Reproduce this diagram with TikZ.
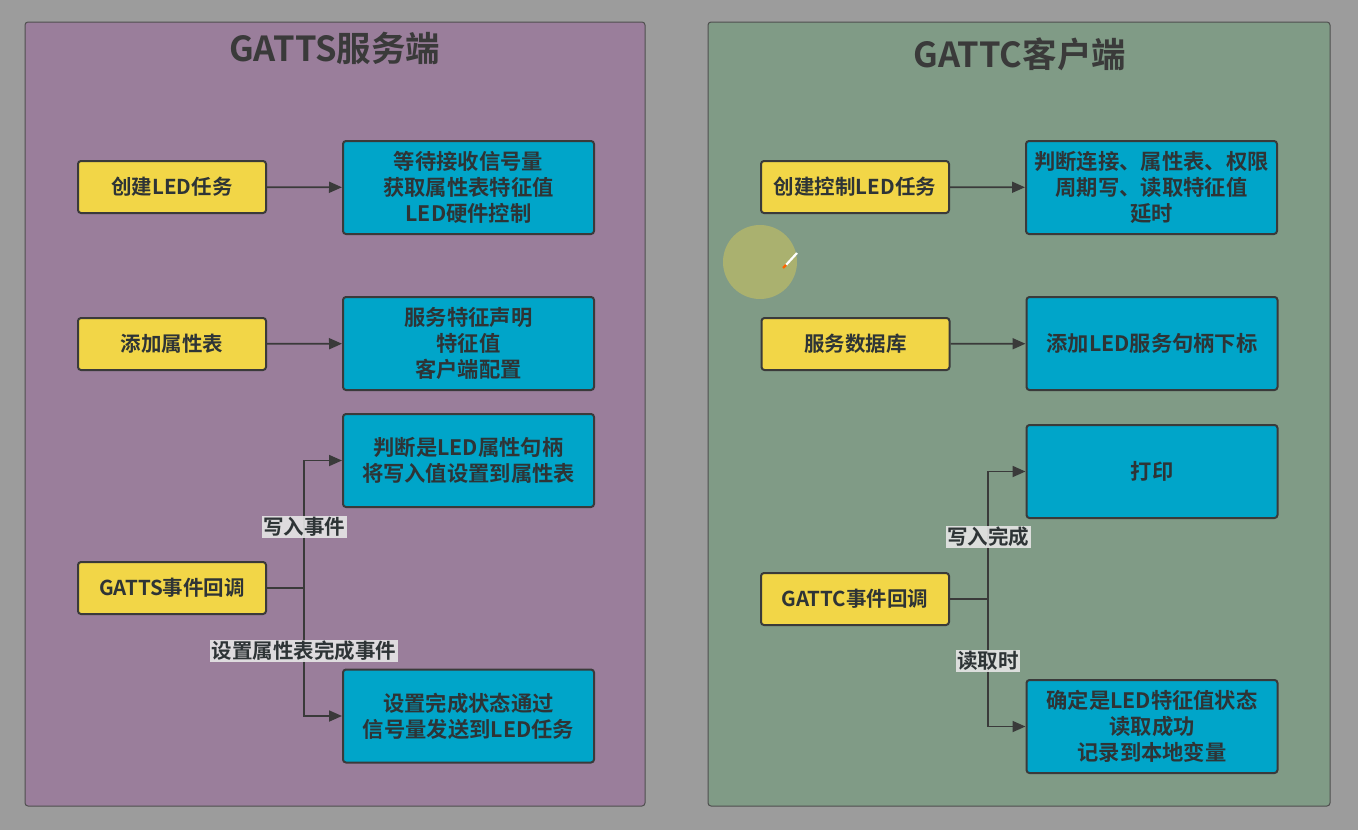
\documentclass[tikz,border=0pt]{standalone}
\usepackage{fontspec}
\setmainfont{Noto Sans CJK SC}[BoldFont={Noto Sans CJK SC Bold}]
\usetikzlibrary{arrows.meta}
\definecolor{bgc}{HTML}{9C9C9C}
\definecolor{lpan}{HTML}{9A7E9B}
\definecolor{rpan}{HTML}{809B86}
\definecolor{yel}{HTML}{F2D647}
\definecolor{blu}{HTML}{00A5C9}
\definecolor{bord}{HTML}{3A3A3A}
\definecolor{txt}{HTML}{2E3436}
\definecolor{lab}{HTML}{E6E6E6}
\definecolor{cur}{HTML}{B2B56C}
\tikzset{
  panel/.style={draw=bord!70!gray, line width=1pt, rounded corners=3pt},
  ybox/.style={draw=bord, fill=yel, line width=2pt, rounded corners=3pt, minimum width=188pt, minimum height=52pt, inner sep=0pt, font=\bfseries\fontsize{20.5}{26}\selectfont, text=txt, align=center},
  bbox/.style={draw=bord, fill=blu, line width=2pt, rounded corners=3pt, minimum width=251pt, minimum height=93pt, inner sep=0pt, font=\bfseries\fontsize{21.3}{26}\selectfont, text=txt, align=center},
  arr/.style={draw=bord, line width=1.8pt, -{Triangle[length=13pt,width=11pt]}},
  ln/.style={draw=bord, line width=1.8pt},
  elab/.style={fill=lab, fill opacity=0.9, text opacity=1, inner sep=1.5pt, font=\bfseries\fontsize{20.5}{23}\selectfont, text=txt},
  ttl/.style={font=\bfseries\fontsize{34.5}{38}\selectfont, text=bord}
}
\begin{document}
\begin{tikzpicture}[x=1pt,y=-1pt]
\useasboundingbox (0,0) rectangle (1358,830);
\fill[bgc] (0,0) rectangle (1358,830);
% panels
\draw[panel, fill=lpan] (25,22) rectangle (645,806);
\draw[panel, fill=rpan] (708,22) rectangle (1330,806);
\node[ttl] (t1) at (335,48) {GATTS服务端};
\node[ttl] (t2) at (1020,54) {GATTC客户端};
% left side
\node[ybox] (ly1) at (172,187) {创建LED任务};
\node[ybox] (ly2) at (172,344) {添加属性表};
\node[ybox] (ly3) at (172,588) {GATTS事件回调};
\node[bbox] (lb1) at (468.5,187.5) {等待接收信号量\\获取属性表特征值\\LED硬件控制};
\node[bbox] (lb2) at (468.5,343.5) {服务特征声明\\特征值\\客户端配置};
\node[bbox] (lb3) at (468.5,460.5) {判断是LED属性句柄\\将写入值设置到属性表};
\node[bbox] (lb4) at (468.5,716) {设置完成状态通过\\信号量发送到LED任务};
\draw[arr] (ly1) -- (lb1);
\draw[arr] (ly2) -- (lb2);
\coordinate (lj) at (304,588);
\draw[ln] (ly3.east) -- (lj);
\draw[arr] (lj) |- (lb3.west);
\draw[arr] (lj) |- (lb4.west);
\node[elab] (ll1) at (304,527) {写入事件};
\node[elab] (ll2) at (304,651) {设置属性表完成事件};
% right side
\node[ybox] (ry1) at (855,187) {创建控制LED任务};
\node[ybox] (ry2) at (855.5,344) {服务数据库};
\node[ybox] (ry3) at (855,599) {GATTC事件回调};
\node[bbox] (rb1) at (1151.5,187.5) {判断连接、属性表、权限\\周期写、读取特征值\\延时};
\node[bbox] (rb2) at (1152,343.5) {添加LED服务句柄下标};
\node[bbox] (rb3) at (1152,471.5) {打印};
\node[bbox] (rb4) at (1152,726.5) {确定是LED特征值状态\\读取成功\\记录到本地变量};
\draw[arr] (ry1) -- (rb1);
\draw[arr] (ry2) -- (rb2);
\coordinate (rj) at (988,599);
\draw[ln] (ry3.east) -- (rj);
\draw[arr] (rj) |- (rb3.west);
\draw[arr] (rj) |- (rb4.west);
\node[elab] (rl1) at (988,537) {写入完成};
\node[elab] (rl2) at (988,661) {读取时};
% cursor highlight
\fill[cur, opacity=0.85] (760,262) circle (37);
\draw[line width=2.2pt, white] (797,253) -- (786,265);
\draw[line width=2.2pt, orange!80!red] (786,265) -- (783,268);
\end{tikzpicture}
\end{document}
